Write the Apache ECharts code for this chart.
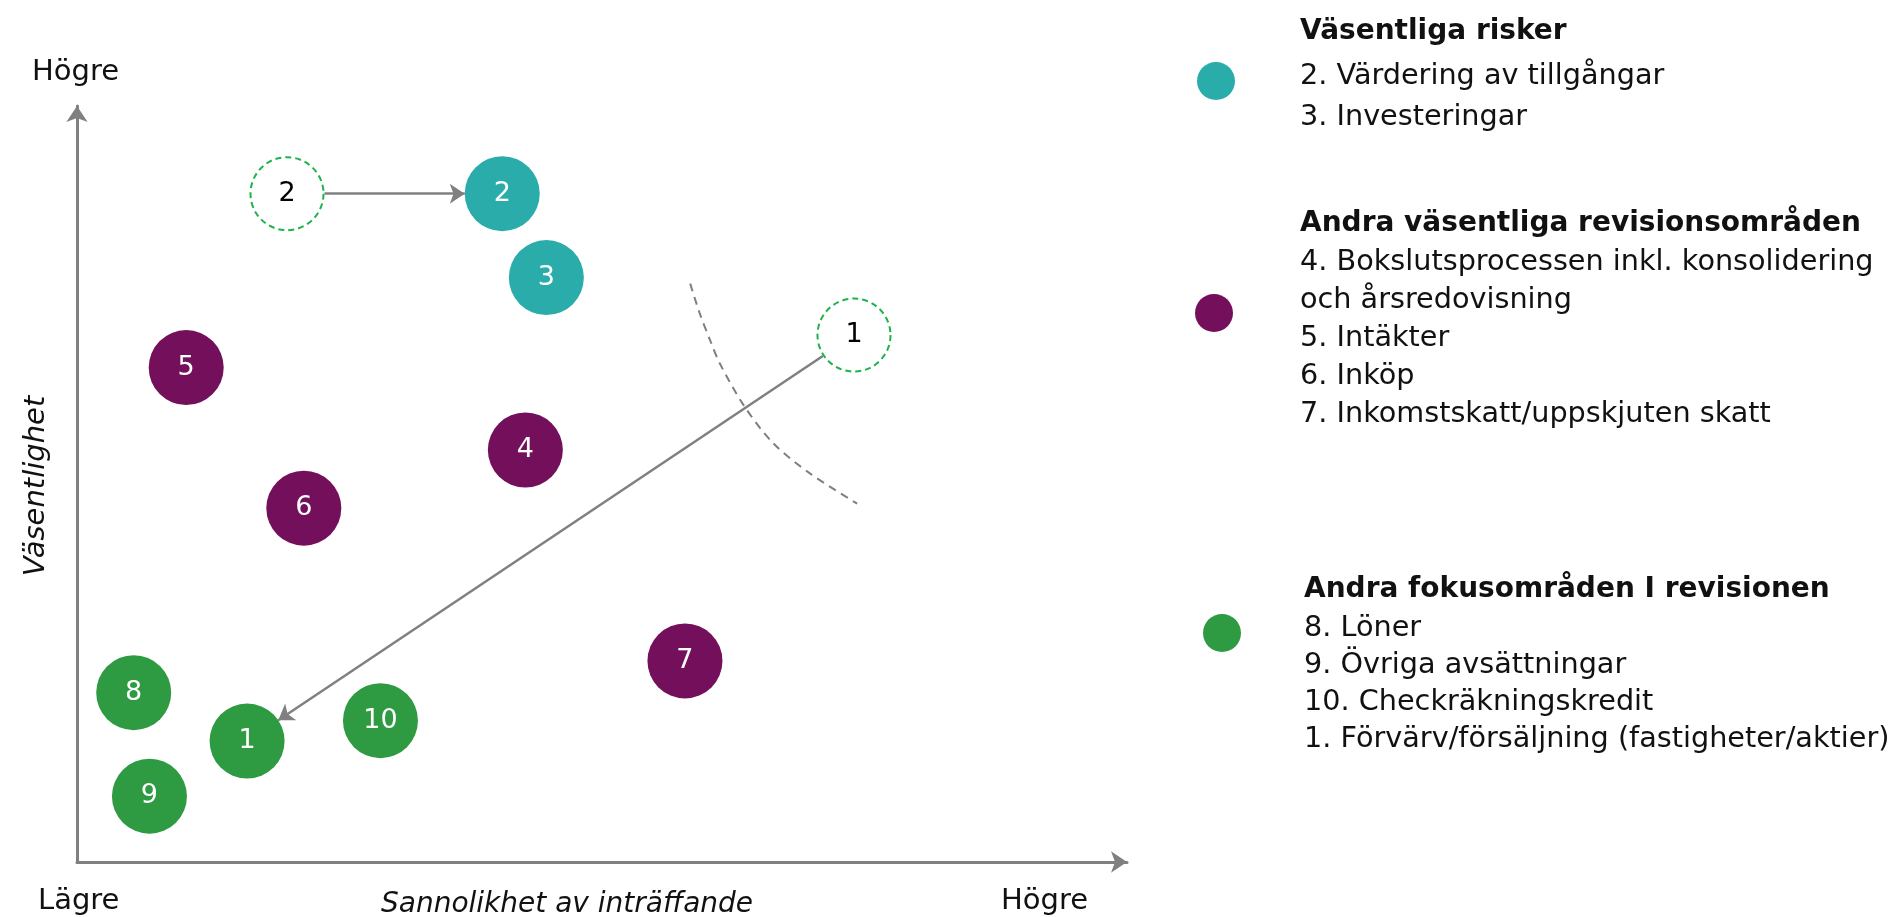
<!DOCTYPE html>
<html>
<head>
<meta charset="utf-8">
<style>
  html, body { margin: 0; padding: 0; background: #fff; }
  #chart { width: 1893px; height: 917px; }
</style>
<script src="https://cdn.jsdelivr.net/npm/echarts@6/dist/echarts.min.js"></script>
</head>
<body>
<div id="chart"></div>
<script>
// positions, both axes 0-100
var riskPoints = [[40.5, 88.4, '2'], [44.7, 77.3, '3']];
var auditPoints = [[42.7, 54.5, '4'], [10.4, 65.4, '5'], [21.6, 46.8, '6'], [57.9, 26.6, '7']];
var focusPoints = [[16.2, 16.0, '1'], [5.4, 22.4, '8'], [6.9, 8.7, '9'], [28.9, 18.7, '10']];
// where 2 and 1 sat before
var previousPoints = [[20.0, 88.4, '2'], [74.0, 69.7, '1']];
// moves: [from, to]
var moves = [
  [[20.0, 88.4], [40.5, 88.4]],
  [[74.0, 69.7], [16.2, 16.0]]
];
// dashed boundary
var boundary = [[58.4, 76.5], [59.3, 72.6], [60.3, 69.0], [61.2, 66.0], [63.5, 60.4], [66.3, 55.4], [69.8, 51.4], [74.3, 47.4]];

var groupTitles = ['Väsentliga risker', 'Andra väsentliga revisionsområden', 'Andra fokusområden I revisionen'];
var groupItems = [
  ['2. Värdering av tillgångar', '3. Investeringar'],
  ['4. Bokslutsprocessen inkl. konsolidering', 'och årsredovisning', '5. Intäkter', '6. Inköp', '7. Inkomstskatt/uppskjuten skatt'],
  ['8. Löner', '9. Övriga avsättningar', '10. Checkräkningskredit', '1. Förvärv/försäljning (fastigheter/aktier)']
];
var groupColors = ['#2aacaa', '#740f5c', '#2e9a41'];

var FONT = 'DejaVu Sans';
var SIZE = 75;

var chart = echarts.init(document.getElementById('chart'));

function bubbles(name, data, color) {
  return {
    type: 'scatter',
    name: name,
    data: data,
    symbolSize: SIZE,
    itemStyle: { color: color, opacity: 1 },
    label: {
      show: true, position: 'inside',
      formatter: function (p) { return p.value[2]; },
      color: '#fff', fontSize: 27, fontFamily: FONT
    },
    z: 4
  };
}

// legend block on the right
var legendLayout = [
  { cx: 1216, cy: 81, x: 1300, titleY: 32, firstY: 77, step: 41 },
  { cx: 1214, cy: 313, x: 1300, titleY: 224, firstY: 263, step: 37.8 },
  { cx: 1222, cy: 633, x: 1304, titleY: 590, firstY: 628.5, step: 37 }
];
var graphics = [];
legendLayout.forEach(function (g, i) {
  graphics.push({ type: 'circle', shape: { cx: g.cx, cy: g.cy, r: 19 }, style: { fill: groupColors[i] } });
  graphics.push({ type: 'text', x: g.x, y: g.titleY,
    style: { text: groupTitles[i], fontSize: 28, fontWeight: 'bold', fontFamily: FONT, fill: '#111', verticalAlign: 'middle' } });
  groupItems[i].forEach(function (t, j) {
    graphics.push({ type: 'text', x: g.x, y: g.firstY + j * g.step,
      style: { text: t, fontSize: 28.7, fontFamily: FONT, fill: '#111', verticalAlign: 'middle' } });
  });
});
// axis captions
graphics.push({ type: 'text', x: 32, y: 72, style: { text: 'Högre', fontSize: 29, fontFamily: FONT, fill: '#111', verticalAlign: 'middle' } });
graphics.push({ type: 'text', x: 38, y: 901, style: { text: 'Lägre', fontSize: 29, fontFamily: FONT, fill: '#111', verticalAlign: 'middle' } });
graphics.push({ type: 'text', x: 1001, y: 901, style: { text: 'Högre', fontSize: 29, fontFamily: FONT, fill: '#111', verticalAlign: 'middle' } });
graphics.push({ type: 'text', x: 567, y: 905, style: { text: 'Sannolikhet av inträffande', fontSize: 28, fontStyle: 'italic', fontFamily: FONT, fill: '#111', align: 'center', verticalAlign: 'middle' } });
graphics.push({ type: 'text', x: 36, y: 486, rotation: Math.PI / 2, style: { text: 'Väsentlighet', fontSize: 29, fontStyle: 'italic', fontFamily: FONT, fill: '#111', align: 'center', verticalAlign: 'middle' } });

var axisStyle = {
  type: 'value', min: 0, max: 100,
  axisLine: { show: true, symbol: ['none', 'arrow'], symbolSize: [16, 16], lineStyle: { color: '#808080', width: 3 } },
  axisTick: { show: false }, axisLabel: { show: false }, splitLine: { show: false }
};

chart.setOption({
  animation: false,
  grid: { left: 77, top: 106, width: 1050, height: 756, outerBoundsMode: 'none' },
  xAxis: axisStyle,
  yAxis: axisStyle,
  graphic: graphics,
  series: [
    {
      type: 'line', data: boundary, smooth: 0.3, symbol: 'none', silent: true,
      lineStyle: { color: '#7f7f7f', width: 2, type: [8, 6] }, z: 1
    },
    bubbles('Väsentliga risker', riskPoints, groupColors[0]),
    bubbles('Andra väsentliga revisionsområden', auditPoints, groupColors[1]),
    bubbles('Andra fokusområden I revisionen', focusPoints, groupColors[2]),
    {
      type: 'scatter', data: previousPoints, symbolSize: SIZE - 2,
      itemStyle: { color: '#fff', borderColor: '#1db34a', borderWidth: 2, borderType: [6, 4], opacity: 1 },
      label: { show: true, position: 'inside', formatter: function (p) { return p.value[2]; }, color: '#000', fontSize: 27, fontFamily: FONT },
      z: 4
    }
  ]
});

// trim arrows so they run edge to edge between circles
var r = SIZE / 2;
var arrowData = moves.map(function (m) {
  var a = chart.convertToPixel({ gridIndex: 0 }, m[0]);
  var b = chart.convertToPixel({ gridIndex: 0 }, m[1]);
  var dx = b[0] - a[0], dy = b[1] - a[1];
  var len = Math.sqrt(dx * dx + dy * dy);
  var ux = dx / len, uy = dy / len;
  var s = [a[0] + ux * r, a[1] + uy * r];
  var e = [b[0] - ux * r, b[1] - uy * r];
  return { coords: [chart.convertFromPixel({ gridIndex: 0 }, s), chart.convertFromPixel({ gridIndex: 0 }, e)] };
});

chart.setOption({
  series: [{}, {}, {}, {}, {}, {
    type: 'lines', coordinateSystem: 'cartesian2d', data: arrowData,
    symbol: ['none', 'arrow'], symbolSize: 15, silent: true,
    lineStyle: { color: '#808080', width: 2.5, opacity: 1 }, z: 3
  }]
});
</script>
</body>
</html>
